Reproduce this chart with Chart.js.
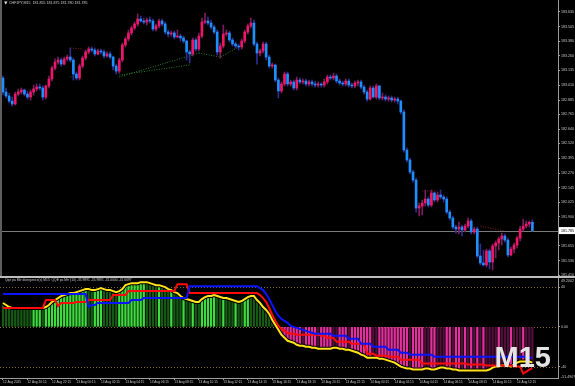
<!DOCTYPE html>
<html>
<head>
<meta charset="utf-8">
<script src="https://cdn.jsdelivr.net/npm/chart.js@4.4.1/dist/chart.umd.min.js"></script>
<style>
  html, body { margin: 0; padding: 0; background: #000; }
  #wrap { position: relative; width: 575px; height: 386px; overflow: hidden; background: #000; }
  #price { position: absolute; left: 0; top: 0; }
  #osc { position: absolute; left: 0; top: 262px; }
  .sep { position: absolute; left: 0; top: 276px; width: 575px; height: 2px; background: #bdbdbd; }
  .edge { position: absolute; left: 0; top: 0; width: 2px; height: 276px; background: #5e5e5e; }
</style>
</head>
<body>
<div id="wrap">
  <canvas id="price" width="575" height="277"></canvas>
  <canvas id="osc" width="575" height="124"></canvas>
  <div class="sep"></div>
  <div class="edge"></div>
</div>
<script>
// CHFJPY M15, one value per bar (bar 0 = 12 Aug 18:15)
const SYMBOL = "CHFJPY,M15";

const opens = [
  183.071,182.953,182.920,182.877,182.852,182.936,182.953,182.970,182.936,182.911,
  182.953,182.979,182.995,182.987,182.911,183.004,183.063,183.156,183.206,183.223,
  183.189,183.232,183.248,183.223,183.105,183.071,183.172,183.240,183.291,183.316,
  183.307,183.274,183.299,183.291,183.257,183.274,183.248,183.172,183.130,183.223,
  183.350,183.400,183.451,183.493,183.527,183.569,183.552,183.543,183.560,183.552,
  183.484,183.510,183.552,183.527,183.459,183.442,183.451,183.417,183.425,183.409,
  183.383,183.291,183.274,183.392,183.316,183.425,183.543,183.552,183.535,183.501,
  183.459,183.291,183.341,183.442,183.451,183.392,183.358,183.341,183.333,183.383,
  183.459,183.510,183.535,183.358,183.282,183.299,183.358,183.248,183.172,183.181,
  183.054,182.962,183.021,183.105,183.021,183.038,182.987,183.054,183.038,183.046,
  183.021,183.038,183.021,183.012,183.021,183.012,183.038,183.080,183.071,183.088,
  183.046,183.029,183.021,183.046,183.012,183.004,183.029,183.038,182.995,182.953,
  182.894,182.987,182.911,183.004,182.903,182.911,182.894,182.903,182.886,182.894,
  182.877,182.785,182.464,182.380,182.279,182.211,181.975,181.992,182.017,182.051,
  182.000,182.102,182.043,182.085,182.068,182.051,181.941,181.891,181.815,181.798,
  181.815,181.790,181.823,181.866,181.773,181.798,181.571,181.512,181.495,181.613,
  181.520,181.655,181.680,181.714,181.739,181.705,181.579,181.629,181.663,181.722,
  181.798,181.823,181.840,181.855
];
const highs = [
  183.088,182.987,182.945,182.911,182.953,182.979,182.987,182.979,182.962,182.970,
  183.012,183.021,183.021,183.004,183.012,183.088,183.172,183.232,183.248,183.240,
  183.248,183.265,183.324,183.240,183.122,183.189,183.257,183.307,183.333,183.333,
  183.324,183.316,183.316,183.307,183.291,183.291,183.257,183.189,183.240,183.366,
  183.417,183.476,183.510,183.543,183.611,183.594,183.577,183.577,183.586,183.569,
  183.527,183.569,183.569,183.543,183.476,183.468,183.468,183.476,183.442,183.425,
  183.392,183.307,183.409,183.409,183.451,183.577,183.619,183.586,183.560,183.518,
  183.476,183.366,183.518,183.476,183.468,183.409,183.375,183.358,183.400,183.476,
  183.527,183.577,183.560,183.375,183.316,183.375,183.375,183.265,183.198,183.189,
  183.071,183.038,183.122,183.122,183.054,183.054,183.080,183.071,183.063,183.063,
  183.054,183.054,183.046,183.038,183.029,183.063,183.097,183.097,183.113,183.105,
  183.063,183.046,183.063,183.063,183.029,183.046,183.054,183.054,183.012,182.970,
  183.004,183.004,183.021,183.012,182.945,182.928,182.920,182.920,182.911,182.911,
  182.886,182.802,182.481,182.397,182.296,182.228,182.017,182.043,182.127,182.068,
  182.127,182.110,182.110,182.127,182.085,182.068,181.958,181.908,181.832,181.857,
  181.832,181.840,181.891,181.882,181.815,181.815,181.672,181.621,181.629,181.629,
  181.672,181.697,181.731,181.764,181.756,181.722,181.646,181.680,181.739,181.823,
  181.882,181.866,181.866,181.875
];
const lows = [
  182.928,182.903,182.861,182.835,182.844,182.920,182.936,182.920,182.894,182.886,
  182.928,182.962,182.970,182.886,182.894,182.987,183.046,183.139,183.189,183.172,
  183.181,183.215,183.206,183.054,183.054,183.054,183.156,183.223,183.274,183.291,
  183.257,183.265,183.274,183.240,183.248,183.232,183.139,183.105,183.113,183.206,
  183.333,183.383,183.434,183.476,183.510,183.543,183.527,183.518,183.535,183.468,
  183.468,183.493,183.510,183.442,183.417,183.425,183.400,183.409,183.383,183.366,
  183.223,183.198,183.257,183.299,183.299,183.409,183.527,183.518,183.484,183.442,
  183.265,183.240,183.324,183.425,183.375,183.341,183.324,183.307,183.316,183.366,
  183.442,183.493,183.341,183.189,183.257,183.282,183.223,183.156,183.156,183.038,
  182.903,182.945,183.004,183.004,183.004,182.970,182.970,183.021,183.021,183.004,
  183.004,183.004,182.995,182.995,182.995,182.995,183.021,183.054,183.054,183.029,
  183.012,183.004,183.004,182.995,182.987,182.987,183.004,182.979,182.936,182.877,
  182.886,182.903,182.894,182.886,182.886,182.877,182.877,182.869,182.869,182.852,
  182.768,182.447,182.363,182.262,182.194,181.941,181.908,181.916,181.992,181.984,
  181.984,182.026,182.026,182.051,182.026,181.925,181.874,181.798,181.764,181.756,
  181.739,181.773,181.807,181.756,181.756,181.554,181.495,181.486,181.478,181.461,
  181.453,181.554,181.621,181.663,181.688,181.562,181.571,181.596,181.638,181.697,
  181.781,181.807,181.815,181.780
];
const closes = [
  182.953,182.920,182.877,182.852,182.936,182.953,182.970,182.936,182.911,182.953,
  182.979,182.995,182.987,182.911,183.004,183.063,183.156,183.206,183.223,183.189,
  183.232,183.248,183.223,183.105,183.071,183.172,183.240,183.291,183.316,183.307,
  183.274,183.299,183.291,183.257,183.274,183.248,183.172,183.130,183.223,183.350,
  183.400,183.451,183.493,183.527,183.569,183.552,183.543,183.560,183.552,183.484,
  183.510,183.552,183.527,183.459,183.442,183.451,183.417,183.425,183.409,183.383,
  183.291,183.274,183.392,183.316,183.425,183.543,183.552,183.535,183.501,183.459,
  183.291,183.341,183.442,183.451,183.392,183.358,183.341,183.333,183.383,183.459,
  183.510,183.535,183.358,183.282,183.299,183.358,183.248,183.172,183.181,183.054,
  182.962,183.021,183.105,183.021,183.038,182.987,183.054,183.038,183.046,183.021,
  183.038,183.021,183.012,183.021,183.012,183.038,183.080,183.071,183.088,183.046,
  183.029,183.021,183.046,183.012,183.004,183.029,183.038,182.995,182.953,182.894,
  182.987,182.911,183.004,182.903,182.911,182.894,182.903,182.886,182.894,182.877,
  182.785,182.464,182.380,182.279,182.211,181.975,181.992,182.017,182.051,182.000,
  182.102,182.043,182.085,182.068,182.051,181.941,181.891,181.815,181.798,181.815,
  181.790,181.823,181.866,181.773,181.798,181.571,181.512,181.495,181.613,181.520,
  181.655,181.680,181.714,181.739,181.705,181.579,181.629,181.663,181.722,181.798,
  181.823,181.840,181.855,181.785
];

const priceTicks = [183.630,183.505,183.380,183.260,183.135,183.010,182.885,182.765,182.640,
  182.520,182.395,182.270,182.145,182.025,181.900,181.775,181.655,181.530,181.410];
const priceRange = [181.402, 183.729];

// one label every 8 bars, starting at bar 0
const timeLabels = ["12 Aug 2025","12 Aug 20:15","12 Aug 22:15","13 Aug 00:15","13 Aug 02:15",
  "13 Aug 04:15","13 Aug 06:15","13 Aug 08:15","13 Aug 10:15","13 Aug 12:15","13 Aug 14:15",
  "13 Aug 16:15","13 Aug 18:15","13 Aug 20:15","13 Aug 22:15","14 Aug 00:15","14 Aug 02:15",
  "14 Aug 04:15","14 Aug 06:15","14 Aug 08:15","14 Aug 10:15","14 Aug 12:15"];
const TIME_STEP = 8;

// divergence lines on the price window: [bar, price] pairs
const divGreen = [
  [[38, 183.080], [64, 183.282]],
  [[38, 183.097], [61, 183.181]],
  [[64, 183.282], [71, 183.248], [77, 183.333]],
  [[22, 183.080], [24, 183.080]]
];
const divRed = [
  [[22, 183.324], [26, 183.316]],
  [[137, 182.119], [142, 182.119]],
  [[156, 181.823], [164, 181.781]]
];

// QQE pa Mtr (10)
const qqeLine = [
  24,22,20,19,19,19,19,19,19,19,
  19,19,19,19,20,22,25,27,29,31,
  32,33,34,34,35,36,37,38,38,37,
  37,38,39,38,37,37,36,35,36,38,
  42,43,44,44,44,45,45,45,44,43,
  42,42,41,40,38,37,35,34,31,29,
  28,27,26,25,25,28,30,31,31,32,
  31,30,29,29,28,27,26,25,26,28,
  30,31,31,27,24,20,17,13,7,2,
  -3,-8,-11,-14,-15,-16,-18,-19,-19,-20,
  -20,-21,-21,-22,-22,-22,-22,-22,-21,-21,
  -22,-22,-23,-23,-24,-25,-26,-28,-29,-31,
  -31,-31,-31,-32,-32,-33,-34,-35,-36,-38,
  -40,-41,-42,-42,-43,-43,-43,-43,-42,-42,
  -43,-43,-42,-41,-41,-42,-42,-43,-43,-44,
  -44,-44,-44,-44,-44,-44,-44,-44,-44,-43,
  -41,-40,-40,-39,-39,-39,-40,-38,-36,-35,
  -35,-35,-35,-35.9891
];
const qqeRed = [
  19,19,19,19,19,19,19,19,19,19,
  19,19,19,19,27,27,27,27,21,24,
  24,24,24,24,25,25,25,25,27,27,
  27,27,27,27,27,27,32,32,32,32,
  32,36,36,36,36,36,36,36,36,36,
  36,36,36,36,36,36,36,43,43,43,
  43,34,34,34,34,34,34,34,34,34,
  34,34,34,34,34,34,34,34,34,34,
  34,34,34,34,32,29,25,19,12,6,
  1,-2,-4,-6,-7,-7,-8,-8,-8,-8,
  -8,-8,-8,-8,-9,-9,-11,-11,-11,-15,
  -15,-15,-15,-15,-17,-17,-17,-17,-17,-27,
  -27,-27,-29,-29,-29,-29,-30,-30,-30,-30,
  -33,-33,-33,-33,-33,-33,-33,-37,-37,-37,
  -37,-37,-37,-37,-37,-37,-37,-37,-37,-37,
  -37,-37,-38,-38,-38,-38,-38,-38,-39,-39,
  -39,-39,-39,-39,-39,-39,-39,-40,-40,-40,
  -47,-45,-43,-41.6697
];
const qqeBlue = [
  33,33,33,33,33,33,33,33,33,33,
  33,33,33,33,33,33,33,33,33,33,
  33,33,33,33,33,33,33,33,20,22,
  22,24,24,24,24,24,24,24,24,24,
  24,24,27,27,27,27,29,29,29,29,
  29,29,29,29,29,29,29,29,29,29,
  29,41,41,41,41,41,41,41,41,41,
  41,41,41,41,41,41,41,41,41,41,
  41,41,41,41,39,37,33,28,22,16,
  11,8,6,4,1,0,-1,-2,-3,-4,
  -5,-6,-7,-7,-7,-7,-7,-7,-9,-9,
  -9,-9,-9,-12,-12,-12,-12,-17,-17,-17,
  -17,-20,-20,-20,-20,-20,-23,-23,-23,-23,
  -26,-26,-26,-28,-28,-28,-28,-28,-28,-28,
  -28,-30,-30,-30,-30,-30,-30,-30,-30,-30,
  -30,-30,-30,-30,-30,-30,-30,-30,-30,-30,
  -30,-30,-30,-30,-30,-30,-30,-30,-30,-30,
  -30,-30,-31,-31
];
// 1 = bright histogram bar, 0 = dim bar
const qqeBright = [
  0,0,0,0,0,0,0,0,0,0,
  1,1,1,0,1,1,1,1,1,1,
  1,1,1,1,1,1,1,1,0,0,
  1,1,1,0,0,0,0,0,1,1,
  1,1,1,1,1,1,1,0,0,0,
  0,1,0,0,0,1,0,0,0,1,
  0,0,1,0,0,1,1,1,1,1,
  0,0,1,0,0,0,1,0,0,1,
  1,0,0,0,0,0,0,0,0,0,
  1,1,1,1,1,1,1,1,0,1,
  1,1,1,0,1,1,1,1,0,0,
  1,1,1,0,1,1,1,1,1,1,
  1,0,0,1,1,1,1,1,1,1,
  1,1,1,0,1,1,1,1,0,0,
  1,1,0,0,0,1,1,0,1,1,
  0,1,0,1,0,1,0,1,0,0,
  0,0,1,0,0,0,1,0,0,0,
  1,0,0,0
];
const oscTicks = [40, 0, -40];
const oscRange = [-51.4907, 49.2002];
const OSC_TITLE = "Qqe pa Mtr divergence(s) M15  QQE pa Mtr (10)";

// shared x range so both windows line up bar for bar
const X_MIN = -0.98, X_MAX = 181.37;
const FONT = '"Liberation Sans", Arial, sans-serif';
const AXIS = '#9c9c9c';
const TXT = '#c4c4c4';
const UP = '#f0176a', DOWN = '#1e8fff';
const UP_WICK = '#7a1c5e', DOWN_WICK = '#2e2e90';

const bars = closes.map((_, i) => i);
const isUp = i => closes[i] >= opens[i];

function fixAxisWidth(s) { s.width = 17; s.paddingTop = 0; s.paddingBottom = 0; }

function divSets(list, color) {
  return list.map(seg => ({
    type: 'line',
    data: seg.map(p => ({ x: p[0], y: p[1] })),
    borderColor: color,
    borderWidth: 1,
    borderDash: [1, 1.5],
    pointRadius: 0,
    tension: 0,
    order: 3
  }));
}

const pricePlugin = {
  id: 'pricePlugin',
  beforeDatasetsDraw(chart) {
    const { ctx, chartArea: a, scales: { y } } = chart;
    const py = Math.round(y.getPixelForValue(closes[closes.length - 1])) + 0.5;
    ctx.save();
    ctx.strokeStyle = '#7a7a7a';
    ctx.lineWidth = 1;
    ctx.beginPath();
    ctx.moveTo(a.left, py);
    ctx.lineTo(a.right, py);
    ctx.stroke();
    ctx.restore();
  },
  afterDraw(chart) {
    const { ctx, chartArea: a, scales: { y } } = chart;
    const last = closes.length - 1;
    const py = y.getPixelForValue(closes[last]);
    ctx.save();
    // current price tag on the axis
    ctx.fillStyle = '#ffffff';
    ctx.fillRect(a.right + 1, py - 3.5, 16, 7);
    ctx.fillStyle = '#000';
    ctx.font = '3.6px ' + FONT;
    ctx.textBaseline = 'middle';
    ctx.textAlign = 'left';
    ctx.fillText(closes[last].toFixed(3), a.right + 3, py);
    // window title
    ctx.fillStyle = '#e0e0e0';
    ctx.beginPath();
    ctx.moveTo(4, 1.5); ctx.lineTo(7.5, 1.5); ctx.lineTo(5.75, 4.5);
    ctx.closePath();
    ctx.fill();
    ctx.fillStyle = '#cfcfcf';
    const ohlc = [opens[last], highs[last], lows[last], closes[last]].map(v => v.toFixed(3)).join(' ');
    ctx.fillText(SYMBOL + '  ' + ohlc, 9, 3);
    ctx.restore();
  }
};

new Chart(document.getElementById('price'), {
  type: 'bar',
  data: {
    datasets: [
      {
        data: bars.map(i => ({ x: i, y: [opens[i], closes[i]] })),
        backgroundColor: c => isUp(c.dataIndex) ? UP : DOWN,
        barThickness: 2,
        minBarLength: 1,
        grouped: false,
        borderWidth: 0,
        order: 1
      },
      {
        data: bars.map(i => ({ x: i, y: [lows[i], highs[i]] })),
        backgroundColor: c => isUp(c.dataIndex) ? UP_WICK : DOWN_WICK,
        barThickness: 1,
        grouped: false,
        borderWidth: 0,
        order: 2
      },
      ...divSets(divGreen, '#23802a'),
      ...divSets(divRed, '#8e1e1e')
    ]
  },
  options: {
    responsive: false,
    animation: false,
    events: [],
    layout: { padding: { top: 0, left: 0, right: 0, bottom: 1 } },
    plugins: { legend: { display: false }, tooltip: { enabled: false } },
    scales: {
      x: { type: 'linear', min: X_MIN, max: X_MAX, offset: false, display: false },
      y: {
        position: 'right',
        min: priceRange[0],
        max: priceRange[1],
        afterBuildTicks: s => { s.ticks = priceTicks.map(v => ({ value: v })); },
        afterFit: fixAxisWidth,
        ticks: {
          autoSkip: false,
          color: TXT,
          padding: 1,
          font: { size: 3.6, family: FONT },
          callback: v => v.toFixed(3)
        },
        grid: { drawOnChartArea: false, drawTicks: true, tickLength: 2, color: AXIS },
        border: { display: true, color: AXIS }
      }
    }
  },
  plugins: [pricePlugin]
});

const oscPlugin = {
  id: 'oscPlugin',
  beforeDatasetsDraw(chart) {
    const { ctx, chartArea: a, scales: { y } } = chart;
    ctx.save();
    ctx.strokeStyle = '#7d6a2a';
    ctx.lineWidth = 1;
    ctx.setLineDash([1, 2]);
    oscTicks.forEach(v => {
      const py = Math.round(y.getPixelForValue(v)) + 0.5;
      ctx.beginPath();
      ctx.moveTo(a.left, py);
      ctx.lineTo(a.right, py);
      ctx.stroke();
    });
    ctx.restore();
  },
  afterDraw(chart) {
    const { ctx, chartArea: a } = chart;
    const last = qqeLine.length - 1;
    ctx.save();
    ctx.fillStyle = TXT;
    ctx.textBaseline = 'middle';
    ctx.textAlign = 'left';
    ctx.font = '3.3px ' + FONT;
    const vals = [qqeLine[last], qqeLine[last], qqeBlue[last], qqeRed[last]].map(v => v.toFixed(4)).join(' ');
    ctx.fillText(OSC_TITLE + ' ' + vals, 5, a.top + 2.5);
    // window max / min on the scale
    ctx.font = '3.6px ' + FONT;
    ctx.fillText(oscRange[1].toFixed(4), a.right + 3, a.top + 2.5);
    ctx.fillText(oscRange[0].toFixed(4), a.right + 3, a.bottom - 1.5);
    // timeframe watermark
    ctx.font = 'bold 29px ' + FONT;
    ctx.textAlign = 'right';
    ctx.textBaseline = 'alphabetic';
    ctx.fillStyle = '#e4e4e4';
    ctx.fillText('M15', 551, a.bottom - 11);
    ctx.restore();
  }
};

new Chart(document.getElementById('osc'), {
  type: 'bar',
  data: {
    datasets: [
      {
        type: 'line',
        data: bars.map(i => ({ x: i, y: qqeBlue[i] })),
        borderColor: '#0a14ff', borderWidth: 2, pointRadius: 0, tension: 0, order: 1
      },
      {
        type: 'line',
        data: bars.map(i => ({ x: i, y: qqeRed[i] })),
        borderColor: '#ff0a0a', borderWidth: 2, pointRadius: 0, tension: 0, order: 2
      },
      {
        type: 'line',
        data: bars.map(i => ({ x: i, y: qqeLine[i] })),
        borderColor: '#ffe21a', borderWidth: 2, pointRadius: 0, tension: 0, order: 3
      },
      {
        type: 'line',
        data: bars.map(i => ({ x: i, y: qqeLine[i] })),
        borderColor: '#000000', borderWidth: 4, pointRadius: 0, tension: 0, order: 4
      },
      {
        data: bars.map(i => ({ x: i, y: qqeLine[i] })),
        backgroundColor: c => {
          const i = c.dataIndex;
          if (qqeLine[i] >= 0) return qqeBright[i] ? '#3fdc3f' : '#165a16';
          return qqeBright[i] ? '#e4309e' : '#50103a';
        },
        barThickness: 1.6,
        grouped: false,
        borderWidth: 0,
        order: 5
      }
    ]
  },
  options: {
    responsive: false,
    animation: false,
    events: [],
    layout: { padding: { top: 16, left: 0, right: 0, bottom: 0 } },
    plugins: { legend: { display: false }, tooltip: { enabled: false } },
    scales: {
      x: {
        type: 'linear',
        min: X_MIN,
        max: X_MAX,
        offset: false,
        afterBuildTicks: s => { s.ticks = timeLabels.map((_, k) => ({ value: k * TIME_STEP })); },
        afterFit: s => { s.height = 8; s.paddingLeft = 0; s.paddingRight = 0; },
        ticks: {
          autoSkip: false,
          maxRotation: 0,
          align: 'start',
          padding: 0,
          color: TXT,
          font: { size: 3.2, family: FONT },
          callback: (v, k) => timeLabels[k]
        },
        grid: { drawOnChartArea: false, drawTicks: true, tickLength: 2, color: AXIS, offset: false },
        border: { display: true, color: AXIS }
      },
      y: {
        position: 'right',
        min: oscRange[0],
        max: oscRange[1],
        afterBuildTicks: s => { s.ticks = oscTicks.map(v => ({ value: v })); },
        afterFit: fixAxisWidth,
        ticks: {
          autoSkip: false,
          color: TXT,
          padding: 1,
          font: { size: 3.6, family: FONT },
          callback: v => v === 0 ? '0.00' : String(v)
        },
        grid: { drawOnChartArea: false, drawTicks: true, tickLength: 2, color: AXIS },
        border: { display: true, color: AXIS }
      }
    }
  },
  plugins: [oscPlugin]
});
</script>
</body>
</html>
